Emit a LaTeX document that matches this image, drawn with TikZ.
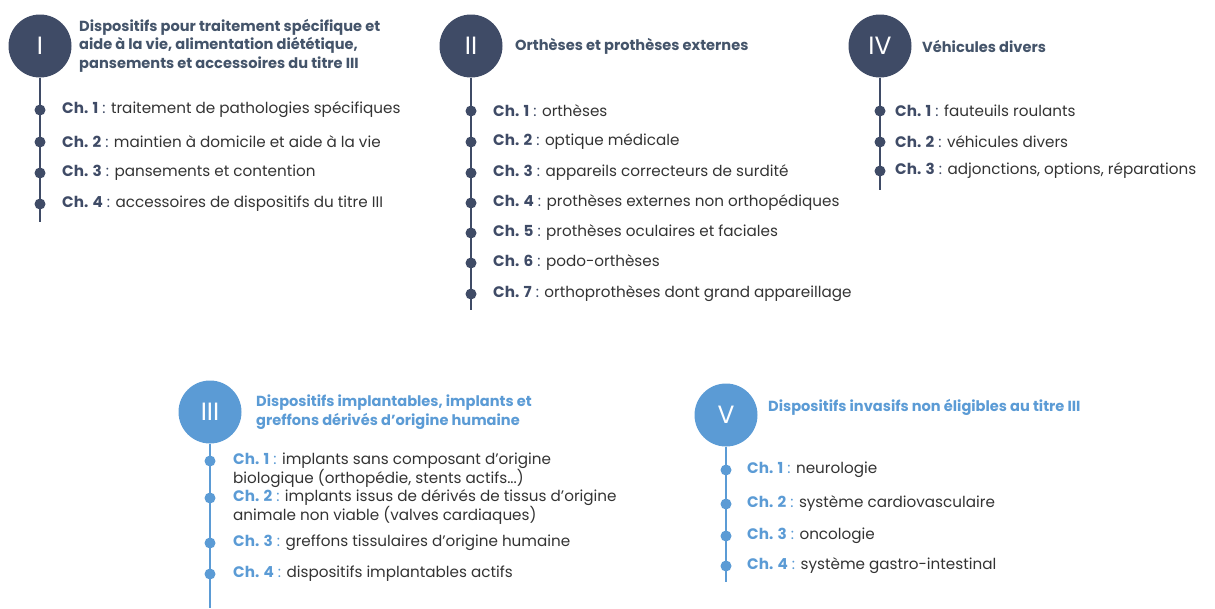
\documentclass[tikz,border=0pt]{standalone}
\usepackage{fontspec}
\setmainfont{Poppins}
\definecolor{navy}{HTML}{3F4B66}
\definecolor{navytxt}{HTML}{44546A}
\definecolor{bluec}{HTML}{5B9BD5}
\definecolor{bodygray}{HTML}{333333}
\newcommand\chd[1]{{\color{navy}\textbf{Ch. #1} :}}
\newcommand\chb[1]{{\color{bluec}\textbf{Ch. #1} :}}
\begin{document}
\begin{tikzpicture}[x=1pt,y=-1pt,
  numcirc/.style={circle, fill=#1, minimum size=63pt, inner sep=0pt, text=white, font=\fontsize{25}{28}\selectfont},
  dotn/.style={circle, fill=#1, minimum size=11pt, inner sep=0pt},
  ttl/.style={anchor=west, align=left, inner sep=0pt, font=\bfseries\fontsize{14.6}{18.5}\selectfont, text=#1},
  itemtxt/.style={anchor=west, align=left, inner sep=0pt, font=\fontsize{15.2}{19}\selectfont, text=bodygray},
  vline/.style={draw=#1, line width=1.2pt}]
\useasboundingbox (0,0) rectangle (1215,608);

% ---------- I ----------
\node[numcirc=navy] (c1) at (40,46) {I};
\coordinate (e1) at (40,222);
\draw[vline=navy] (c1.south) -- (e1);
\node[ttl=navytxt] (t1) at (79,45.5) {Dispositifs pour traitement spécifique et\\aide à la vie, alimentation diététique,\\pansements et accessoires du titre III};
\node[dotn=navy] (d11) at (40,110) {};
\node[dotn=navy] (d12) at (40,142) {};
\node[dotn=navy] (d13) at (40,173) {};
\node[dotn=navy] (d14) at (40,204) {};
\node[itemtxt] (i11) at (62,110) {\chd{1} traitement de pathologies spécifiques};
\node[itemtxt] (i12) at (62,142) {\chd{2} maintien à domicile et aide à la vie};
\node[itemtxt] (i13) at (62,173) {\chd{3} pansements et contention};
\node[itemtxt] (i14) at (62,204) {\chd{4} accessoires de dispositifs du titre III};

% ---------- II ----------
\node[numcirc=navy] (c2) at (471,46) {II};
\coordinate (e2) at (471,310);
\draw[vline=navy] (c2.south) -- (e2);
\node[ttl=navytxt] (t2) at (515,46) {Orthèses et prothèses externes};
\foreach \n/\yy in {1/111,2/142,3/173,4/203,5/233,6/263,7/294}
  \node[dotn=navy] (d2\n) at (471,\yy) {};
\node[itemtxt] (i21) at (493,111) {\chd{1} orthèses};
\node[itemtxt] (i22) at (493,142) {\chd{2} optique médicale};
\node[itemtxt] (i23) at (493,173) {\chd{3} appareils correcteurs de surdité};
\node[itemtxt] (i24) at (493,203) {\chd{4} prothèses externes non orthopédiques};
\node[itemtxt] (i25) at (493,233) {\chd{5} prothèses oculaires et faciales};
\node[itemtxt] (i26) at (493,263) {\chd{6} podo-orthèses};
\node[itemtxt] (i27) at (493,294) {\chd{7} orthoprothèses dont grand appareillage};

% ---------- IV ----------
\node[numcirc=navy] (c4) at (880,46) {IV};
\coordinate (e4) at (880,190);
\draw[vline=navy] (c4.south) -- (e4);
\node[ttl=navytxt] (t4) at (922,46) {Véhicules divers};
\node[dotn=navy] (d41) at (880,111) {};
\node[dotn=navy] (d42) at (880,142) {};
\node[dotn=navy] (d43) at (880,171) {};
\node[itemtxt] (i41) at (895,111) {\chd{1} fauteuils roulants};
\node[itemtxt] (i42) at (895,142) {\chd{2} véhicules divers};
\node[itemtxt] (i43) at (895,171) {\chd{3} adjonctions, options, réparations};

% ---------- III ----------
\node[numcirc=bluec] (c3) at (210,412) {III};
\coordinate (e3) at (210,608);
\draw[vline=bluec] (c3.south) -- (e3);
\node[ttl=bluec] (t3) at (256,412) {Dispositifs implantables, implants et\\greffons dérivés d’origine humaine};
\node[dotn=bluec] (d31) at (210,461) {};
\node[dotn=bluec] (d32) at (210,498) {};
\node[dotn=bluec] (d33) at (210,543) {};
\node[dotn=bluec] (d34) at (210,574) {};
\node[itemtxt] (i31) at (233,470.5) {\chb{1} implants sans composant d’origine\\biologique (orthopédie, stents actifs...)};
\node[itemtxt] (i32) at (233,507.5) {\chb{2} implants issus de dérivés de tissus d’origine\\animale non viable (valves cardiaques)};
\node[itemtxt] (i33) at (233,543) {\chb{3} greffons tissulaires d’origine humaine};
\node[itemtxt] (i34) at (233,574) {\chb{4} dispositifs implantables actifs};

% ---------- V ----------
\node[numcirc=bluec] (c5) at (726,415) {V};
\coordinate (e5) at (726,582);
\draw[vline=bluec] (c5.south) -- (e5);
\node[ttl=bluec] (t5) at (768,407) {Dispositifs invasifs non éligibles au titre III};
\node[dotn=bluec] (d51) at (726,470) {};
\node[dotn=bluec] (d52) at (726,504) {};
\node[dotn=bluec] (d53) at (726,536) {};
\node[dotn=bluec] (d54) at (726,566) {};
\node[itemtxt] (i51) at (747,470) {\chb{1} neurologie};
\node[itemtxt] (i52) at (747,504) {\chb{2} système cardiovasculaire};
\node[itemtxt] (i53) at (747,536) {\chb{3} oncologie};
\node[itemtxt] (i54) at (747,566) {\chb{4} système gastro-intestinal};
\end{tikzpicture}
\end{document}
